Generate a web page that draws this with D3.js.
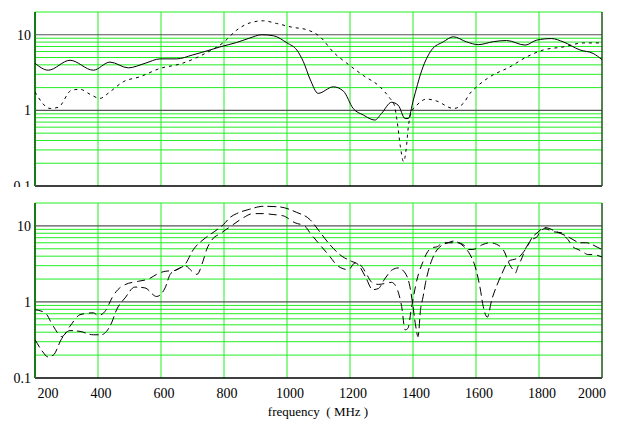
<html>
<head>
<script src="https://d3js.org/d3.v7.min.js"></script>
<style>
body{margin:0;background:#fff}
svg text{font-family:"Times New Roman","Liberation Serif","DejaVu Serif",serif}
</style>
</head>
<body>
<script>
// top panel, solid line
var freqA=[200,242,311,385,438,496,550,597,650,700,756,787,840,880,920,957,1000,1031,1052,1073,1099,1147,1179,1210,1242,1279,1300,1332,1353,1375,1385,1401,1428,1459,1496,1528,1570,1607,1655,1697,1756,1793,1840,1877,1930,1972,2000];
var valA=[4.2,3.4,4.6,3.4,4.35,3.65,4.2,4.8,4.8,5.4,6.3,6.9,7.9,9.0,10,9.7,7.8,6.3,4.4,2.6,1.68,2.05,1.8,1.06,0.87,0.745,0.91,1.28,1.17,0.78,0.78,1.37,3.4,6.3,8.05,9.4,8.05,7.4,8.1,8.4,7.3,8.5,8.9,8.05,6.3,5.66,4.7];
// top panel, dotted line
var freqB=[200,248,274,316,343,375,406,438,480,533,597,660,745,798,840,883,925,967,1020,1062,1105,1147,1190,1242,1295,1327,1340,1350,1360,1370,1378,1385,1395,1412,1443,1475,1528,1560,1581,1602,1644,1708,1761,1814,1877,1941,2000];
var valB=[1.75,1.06,1.1,1.85,1.9,1.63,1.44,1.76,2.39,2.78,3.59,4.1,5.8,7.9,11.5,14.4,15.3,14.1,12.5,11.7,9.4,5.9,4.2,2.9,2.05,1.44,1.2,0.7,0.33,0.21,0.3,0.6,0.95,1.17,1.41,1.33,1.06,1.24,1.68,2.05,2.78,3.77,5.1,6.3,6.9,7.8,7.8];
// bottom panel, first dashed line
var freqC=[200,232,258,285,311,343,385,401,422,448,463,486,528,560,591,613,645,676,700,714,733,745,761,790,829,860,892,924,956,987,1025,1057,1073,1099,1131,1163,1195,1216,1237,1253,1270,1290,1311,1332,1348,1364,1375,1384,1394,1402,1413,1422,1432,1444,1463,1476,1495,1540,1559,1575,1590,1622,1644,1676,1692,1702,1717,1725,1733,1746,1757,1765,1778,1794,1803,1819,1844,1873,1883,1892,1908,1924,1937,1956,1971,2000];
var valC=[0.79,0.72,0.48,0.35,0.48,0.68,0.72,0.66,0.75,1.2,1.45,1.69,1.87,2.0,2.36,2.53,2.6,3.0,2.5,2.3,3.4,4.9,6.5,8.0,10.4,12.7,14.5,14.5,14.1,13.6,11,9.9,8.1,6.0,4.2,2.94,2.66,3.26,2.94,2.3,1.8,1.7,1.75,1.81,1.53,0.87,0.43,0.45,0.78,1.2,2.0,2.66,3.4,4.4,5.2,5.3,6.0,6.0,5.7,4.9,4.9,5.7,6.0,5.4,4.4,3.4,2.66,2.4,2.9,3.8,5.0,5.7,6.6,7.2,8.4,9.2,8.4,8.1,7.2,6.6,5.3,4.9,4.6,4.2,4.2,3.9];
// bottom panel, second dashed line
var freqD=[200,225,240,258,285,311,343,385,410,427,443,459,486,517,549,586,613,629,645,676,703,740,771,798,820,840,880,925,975,1030,1073,1099,1131,1174,1205,1226,1250,1272,1290,1310,1335,1353,1375,1390,1398,1408,1416,1424,1432,1440,1448,1458,1470,1490,1511,1528,1560,1581,1597,1613,1623,1636,1650,1665,1681,1703,1733,1762,1778,1794,1819,1855,1873,1892,1908,1930,1950,1968,1987,2000];
var valD=[0.32,0.22,0.19,0.2,0.33,0.42,0.41,0.37,0.37,0.41,0.53,0.79,1.13,1.57,1.53,1.18,1.53,2.3,2.6,3.1,4.9,6.9,8.5,10.4,13.0,14.5,16.5,18.1,17.8,15.1,12.1,8.9,6.0,4.0,3.42,3.1,2.1,1.45,1.5,2.0,2.66,2.8,2.4,1.6,1.0,0.5,0.35,0.8,1.17,1.8,2.5,3.4,4.4,5.5,6.0,6.3,5.4,4.2,2.94,1.53,0.87,0.63,1.07,1.6,2.29,3.42,3.8,5.3,7.0,8.1,9.5,8.4,7.8,7.2,6.6,6.0,6.0,5.7,5.2,4.9];

var xTicks=[200,400,600,800,1000,1200,1400,1600,1800,2000];
var yTicks=[0.1,1,10];
var yLabels=["0.1","1","10"];
var minorY=[0.2,0.3,0.4,0.5,0.6,0.7,0.8,0.9,2,3,4,5,6,7,8,9,20];

var width=619,height=421;
var svg=d3.select("body").append("svg").attr("width",width).attr("height",height)
  .attr("font-size",14);

var x=d3.scaleLinear().domain([200,2000]).range([35,602]);

var panels=[
  {top:12,bottom:186,series:[[freqA,valA,null],[freqB,valB,"3,4"]]},
  {top:203,bottom:378,series:[[freqC,valC,"8,5"],[freqD,valD,"9,4"]]}
];

panels.forEach(function(p,pi){
  var y=d3.scaleLog().domain([0.1,20]).range([p.bottom,p.top]);
  var g=svg.append("g");
  var clipId="clip"+pi;
  svg.append("clipPath").attr("id",clipId).append("rect")
     .attr("x",35).attr("y",p.top).attr("width",567).attr("height",p.bottom-p.top);

  // green grid
  g.selectAll("line.minor").data(minorY).enter().append("line")
   .attr("x1",x(200)).attr("x2",x(2000))
   .attr("y1",function(d){return y(d)}).attr("y2",function(d){return y(d)})
   .attr("stroke","#22ee22").attr("stroke-width",1);
  g.selectAll("line.vert").data(xTicks.slice(1,-1)).enter().append("line")
   .attr("x1",function(d){return x(d)}).attr("x2",function(d){return x(d)})
   .attr("y1",p.top).attr("y2",p.bottom)
   .attr("stroke","#22ee22").attr("stroke-width",1);
  // decade lines
  g.selectAll("line.major").data([1,10]).enter().append("line")
   .attr("x1",x(200)).attr("x2",x(2000))
   .attr("y1",function(d){return y(d)}).attr("y2",function(d){return y(d)})
   .attr("stroke","#555").attr("stroke-width",1.2);
  // frame
  g.append("line").attr("x1",x(200)).attr("x2",x(2000)).attr("y1",p.bottom).attr("y2",p.bottom)
   .attr("stroke","#000").attr("stroke-width",1.5);
  g.append("line").attr("x1",x(200)).attr("x2",x(200)).attr("y1",p.top).attr("y2",p.bottom)
   .attr("stroke","#1a7a1a").attr("stroke-width",2);
  g.append("line").attr("x1",x(2000)).attr("x2",x(2000)).attr("y1",p.top).attr("y2",p.bottom)
   .attr("stroke","#1a5a1a").attr("stroke-width",1.5);

  // y labels
  var lab=g.append("g");
  if(pi===0){
    svg.append("clipPath").attr("id","labclip").append("rect")
       .attr("x",0).attr("y",0).attr("width",40).attr("height",187);
    lab.attr("clip-path","url(#labclip)");
  }
  lab.selectAll("text").data(yTicks).enter().append("text")
   .attr("x",31).attr("y",function(d){return y(d)}).attr("dy","0.35em")
   .attr("text-anchor","end")
   .text(function(d,i){return yLabels[i]});

  // curves
  var line=d3.line()
    .x(function(d){return x(d[0])})
    .y(function(d){return y(d[1])})
    .curve(d3.curveMonotoneX);
  p.series.forEach(function(s){
    var pts=s[0].map(function(f,i){return [f,s[1][i]]});
    var path=g.append("path").attr("d",line(pts))
      .attr("fill","none").attr("stroke","#000").attr("stroke-width",1)
      .attr("clip-path","url(#"+clipId+")");
    if(s[2]) path.attr("stroke-dasharray",s[2]);
  });
});

// x tick labels of bottom panel
svg.append("g").selectAll("text").data(xTicks).enter().append("text")
   .attr("x",function(d){
     if(d===200) return x(d)+13;
     if(d===2000) return x(d)-10;
     return x(d)+3;
   })
   .attr("y",398)
   .attr("text-anchor","middle")
   .text(function(d){return d});

svg.append("text").attr("x",318).attr("y",416).attr("text-anchor","middle")
   .attr("font-size",13)
   .text("frequency\u00a0\u00a0( MHz )");
</script>
</body>
</html>
